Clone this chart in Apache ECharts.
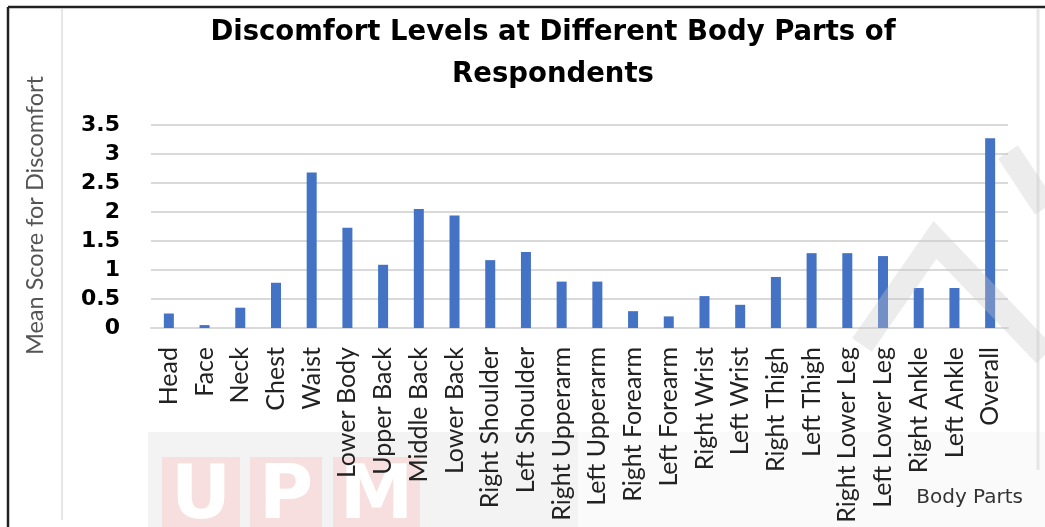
<!DOCTYPE html>
<html>
<head>
<meta charset="utf-8">
<script src="https://cdn.jsdelivr.net/npm/echarts@6/dist/echarts.min.js"></script>
<style>html,body{margin:0;padding:0;background:#fff}#c{width:1045px;height:527px}</style>
</head>
<body>
<div id="c"></div>
<script>
var categories = ["Head","Face","Neck","Chest","Waist","Lower Body","Upper Back","Middle Back","Lower Back","Right Shoulder","Left Shoulder","Right Upperarm","Left Upperarm","Right Forearm","Left Forearm","Right Wrist","Left Wrist","Right Thigh","Left Thigh","Right Lower Leg","Left Lower Leg","Right Ankle","Left Ankle","Overall"];
var meanScores = [0.25,0.05,0.35,0.78,2.68,1.73,1.09,2.05,1.94,1.17,1.31,0.80,0.80,0.29,0.20,0.55,0.40,0.88,1.29,1.29,1.24,0.69,0.69,3.27];
var titleText = "Discomfort Levels at Different Body Parts of\nRespondents";
var yAxisName = "Mean Score for Discomfort";
var xAxisName = "Body Parts";
var watermarkLetters = ["U", "P", "M"];

var wm = [];
var blocks = [[162, 78], [250, 72], [333, 87]];
watermarkLetters.forEach(function (ch, i) {
  wm.push({type: 'rect', shape: {x: blocks[i][0], y: 457, width: blocks[i][1], height: 70}, style: {fill: '#f8dfdf'}, z: -9});
  wm.push({type: 'text', x: blocks[i][0] + blocks[i][1] / 2, y: 462, style: {text: ch, font: 'bold 74px "DejaVu Sans"', fill: '#ffffff', align: 'center', verticalAlign: 'top'}, z: -8});
});

var chart = echarts.init(document.getElementById('c'));
chart.setOption({
  animation: false,
  title: {
    text: titleText, left: 548, top: 7, textAlign: 'center',
    textStyle: {fontFamily: 'DejaVu Sans', fontWeight: 'bold', fontSize: 27.5, color: '#000', lineHeight: 42}
  },
  graphic: [
    {type: 'rect', shape: {x: 148, y: 432, width: 430, height: 95}, style: {fill: '#f3f3f3'}, z: -10},
    {type: 'rect', shape: {x: 578, y: 432, width: 467, height: 95}, style: {fill: '#fafafa'}, z: -10},
    {type: 'line', shape: {x1: 8, y1: 7, x2: 1045, y2: 7}, style: {stroke: '#222', lineWidth: 2.5}},
    {type: 'line', shape: {x1: 8, y1: 7, x2: 8, y2: 527}, style: {stroke: '#222', lineWidth: 2.5}},
    {type: 'line', shape: {x1: 62, y1: 9, x2: 62, y2: 520}, style: {stroke: '#e6e6e6', lineWidth: 2}},
    {type: 'line', shape: {x1: 1038, y1: 9, x2: 1038, y2: 470}, style: {stroke: '#e6e6e6', lineWidth: 3}},
    {type: 'polyline', shape: {points: [[862, 345], [935, 240], [1045, 355]]}, style: {stroke: '#c8c8c8', lineWidth: 24, opacity: 0.35, fill: null, lineJoin: 'miter'}, z: 10},
    {type: 'line', shape: {x1: 1008, y1: 152, x2: 1045, y2: 208}, style: {stroke: '#c8c8c8', lineWidth: 24, opacity: 0.35}, z: 10}
  ].concat(wm),
  grid: {left: 151, right: 37, top: 125, bottom: 199, containLabel: false},
  xAxis: {
    type: 'category', data: categories,
    name: xAxisName, nameLocation: 'end',
    nameTextStyle: {fontFamily: 'DejaVu Sans', fontSize: 20, color: '#333', align: 'right', verticalAlign: 'top', padding: [160, 0, 0, 0]},
    axisLine: {lineStyle: {color: '#d9d9d9', width: 2}},
    axisTick: {show: false},
    axisLabel: {rotate: 90, interval: 0, margin: 19, fontFamily: 'Lato', fontSize: 25, color: '#222'}
  },
  yAxis: {
    type: 'value', min: 0, max: 3.5, interval: 0.5,
    name: yAxisName, nameLocation: 'middle', nameGap: 104, nameRotate: 90,
    nameTextStyle: {fontFamily: 'Lato', fontSize: 23.5, color: '#555', padding: [0, 0, 0, 22]},
    axisLine: {show: false}, axisTick: {show: false},
    splitLine: {lineStyle: {color: '#d9d9d9', width: 2}},
    axisLabel: {margin: 31, fontFamily: 'DejaVu Sans', fontWeight: 'bold', fontSize: 22, color: '#000'}
  },
  series: [{
    type: 'bar', data: meanScores, barWidth: 10,
    itemStyle: {color: '#4472C4'}
  }]
});
</script>
</body>
</html>
